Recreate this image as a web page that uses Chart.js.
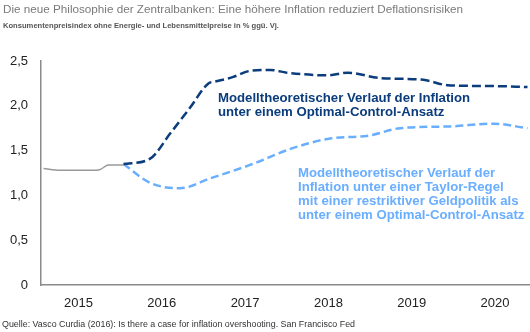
<!DOCTYPE html>
<html>
<head>
<meta charset="utf-8">
<script src="https://cdn.jsdelivr.net/npm/chart.js@4"></script>
<style>
  body { margin: 0; background: #fff; font-family: "Liberation Sans", Arial, sans-serif; }
  #wrap { position: relative; width: 530px; height: 332px; overflow: hidden; }
  #chart { position: absolute; left: 0; top: 0; }
  .txt { position: absolute; white-space: nowrap; }
  #title { left: 3px; top: 2px; font-size: 11.7px; color: #7a7a7a; }
  #sub { left: 3px; top: 21px; font-size: 7.6px; color: #555; font-weight: bold; }
  #src { left: 2px; top: 319px; font-size: 8.9px; color: #333; }
  .ann { font-weight: bold; font-size: 13.2px; line-height: 14px; }
  #annDark { left: 218px; top: 91px; color: #0b3c7c; }
  #annLight { left: 298px; top: 166px; color: #6aaeff; }
</style>
</head>
<body>
<div id="wrap">
  <canvas id="chart" width="530" height="332"></canvas>
  <div class="txt" id="title">Die neue Philosophie der Zentralbanken: Eine höhere Inflation reduziert Deflationsrisiken</div>
  <div class="txt" id="sub">Konsumentenpreisindex ohne Energie- und Lebensmittelpreise in % ggü. Vj.</div>
  <div class="txt ann" id="annDark">Modelltheoretischer Verlauf der Inflation<br>unter einem Optimal-Control-Ansatz</div>
  <div class="txt ann" id="annLight">Modelltheoretischer Verlauf der<br>Inflation unter einer Taylor-Regel<br>mit einer restriktiver Geldpolitik als<br>unter einem Optimal-Control-Ansatz</div>
  <div class="txt" id="src">Quelle: Vasco Curdia (2016): Is there a case for inflation overshooting. San Francisco Fed</div>
</div>
<script>
"use strict";

// Ist-Werte
const actualYears = [2015.08, 2015.28, 2015.64, 2015.76, 2015.86, 2016.04];
const actualValues = [1.30, 1.28, 1.28, 1.29, 1.34, 1.34];

// Optimal-Control-Ansatz
const optimalYears = [2016.04, 2016.36, 2016.60, 2016.84, 2017.06, 2017.14, 2017.35, 2017.56, 2017.80, 2018.00, 2018.49, 2018.73, 2019.12, 2019.64, 2019.93, 2020.48, 2020.89];
const optimalValues = [1.35, 1.41, 1.69, 1.98, 2.25, 2.27, 2.32, 2.39, 2.40, 2.37, 2.34, 2.37, 2.31, 2.29, 2.23, 2.22, 2.21];

// Taylor-Regel
const taylorYears = [2016.04, 2016.36, 2016.72, 2017.08, 2017.56, 2018.08, 2018.49, 2019.00, 2019.36, 2019.96, 2020.48, 2020.89];
const taylorValues = [1.35, 1.14, 1.08, 1.19, 1.34, 1.53, 1.63, 1.67, 1.75, 1.77, 1.80, 1.75];

// Achsen
const yearLabels = ["2015", "2016", "2017", "2018", "2019", "2020"];
const yearTickPos = [2015.5, 2016.5, 2017.5, 2018.5, 2019.5, 2020.5];
const yTicks = [0, 0.5, 1.0, 1.5, 2.0, 2.5];

function toPoints(xs, ys) {
  return xs.map(function (x, i) {
    return { x: x, y: ys[i] };
  });
}

const FONT = "'Liberation Sans', Arial, sans-serif";

let context = document.querySelector("#chart").getContext("2d");
new Chart(context, {
  type: "line",
  data: {
    datasets: [
      {
        data: toPoints(actualYears, actualValues),
        borderColor: "#999999",
        borderWidth: 1.5,
        pointRadius: 0,
        cubicInterpolationMode: "monotone",
      },
      {
        data: toPoints(optimalYears, optimalValues),
        borderColor: "#0b3c7c",
        borderWidth: 2.5,
        borderDash: [9, 4],
        pointRadius: 0,
        cubicInterpolationMode: "monotone",
      },
      {
        data: toPoints(taylorYears, taylorValues),
        borderColor: "#6aaeff",
        borderWidth: 2.5,
        borderDash: [8, 4],
        pointRadius: 0,
        cubicInterpolationMode: "monotone",
      },
    ],
  },
  options: {
    responsive: false,
    animation: false,
    layout: {
      padding: { top: 61, right: 0, left: 0, bottom: 0 },
    },
    plugins: {
      legend: { display: false },
      tooltip: { enabled: false },
    },
    scales: {
      x: {
        type: "linear",
        min: 2015.05,
        max: 2020.92,
        afterBuildTicks: function (scale) {
          scale.ticks = yearTickPos.map(function (v) {
            return { value: v };
          });
        },
        afterFit: function (scale) {
          scale.height = 47;
        },
        grid: { display: false, drawTicks: false },
        border: { color: "#8a8a8a", width: 1.5 },
        ticks: {
          padding: 11,
          maxRotation: 0,
          autoSkip: false,
          color: "#222",
          font: { family: FONT, size: 13 },
          callback: function (value) {
            return yearLabels[yearTickPos.indexOf(value)];
          },
        },
      },
      y: {
        min: 0,
        max: 2.5,
        afterBuildTicks: function (scale) {
          scale.ticks = yTicks.map(function (v) {
            return { value: v };
          });
        },
        afterFit: function (scale) {
          scale.width = 41;
        },
        grid: { display: false, drawTicks: false },
        border: { color: "#8a8a8a", width: 1.5 },
        ticks: {
          padding: 13,
          color: "#222",
          font: { family: FONT, size: 13 },
          callback: function (value) {
            return value === 0 ? "0" : value.toFixed(1).replace(".", ",");
          },
        },
      },
    },
  },
});
</script>
</body>
</html>
